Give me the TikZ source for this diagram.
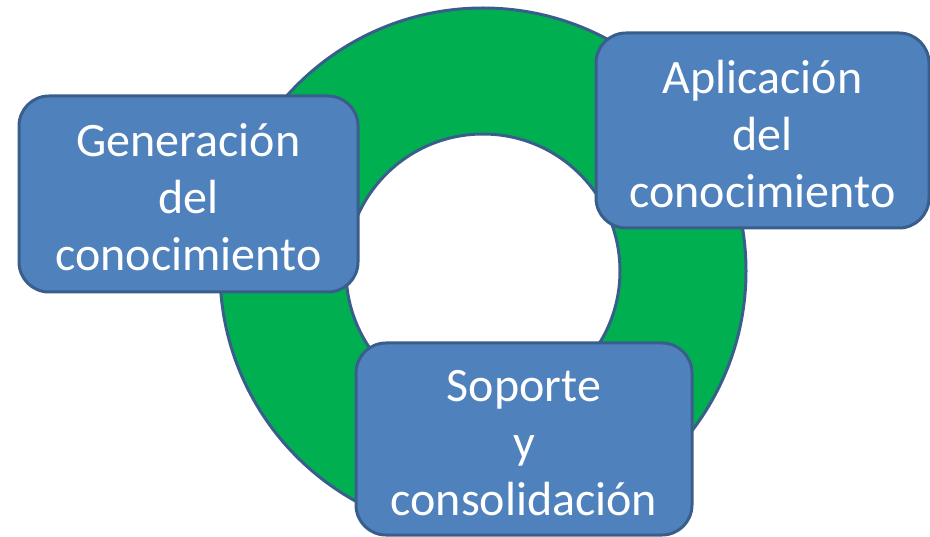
\documentclass[tikz,border=0pt]{standalone}
\usepackage{fontspec}
\setmainfont{Carlito}
\definecolor{ringgreen}{HTML}{00B050}
\definecolor{boxblue}{HTML}{4F81BD}
\definecolor{edgeblue}{HTML}{3A5E8C}
\newcommand{\topstrut}{\rule{0pt}{40pt}}
\tikzset{
  stagebox/.style={draw=edgeblue, fill=boxblue, line width=3pt, rounded corners=30pt,
    text=white, align=center, inner sep=0pt, font=\fontsize{48}{57}\selectfont}
}
\begin{document}
\begin{tikzpicture}[x=1pt,y=-1pt]
\useasboundingbox (0,0) rectangle (930,537);
\fill[white] (0,0) rectangle (930,537);
% ring
\path[draw=edgeblue, line width=3pt, fill=ringgreen, even odd rule]
  (483,271) circle[radius=263] (483,271) circle[radius=137];
% boxes
\node[stagebox, minimum width=339pt, minimum height=196pt] (gen) at (188.5,194)
  {\topstrut Generación\\del\\conocimiento};
\node[stagebox, minimum width=333pt, minimum height=195pt] (apl) at (762.5,130.5)
  {\topstrut Aplicación\\del\\conocimiento};
\node[stagebox, minimum width=336pt, minimum height=192pt] (sop) at (524,439)
  {\topstrut Soporte\\y\\consolidación};
\end{tikzpicture}
\end{document}
